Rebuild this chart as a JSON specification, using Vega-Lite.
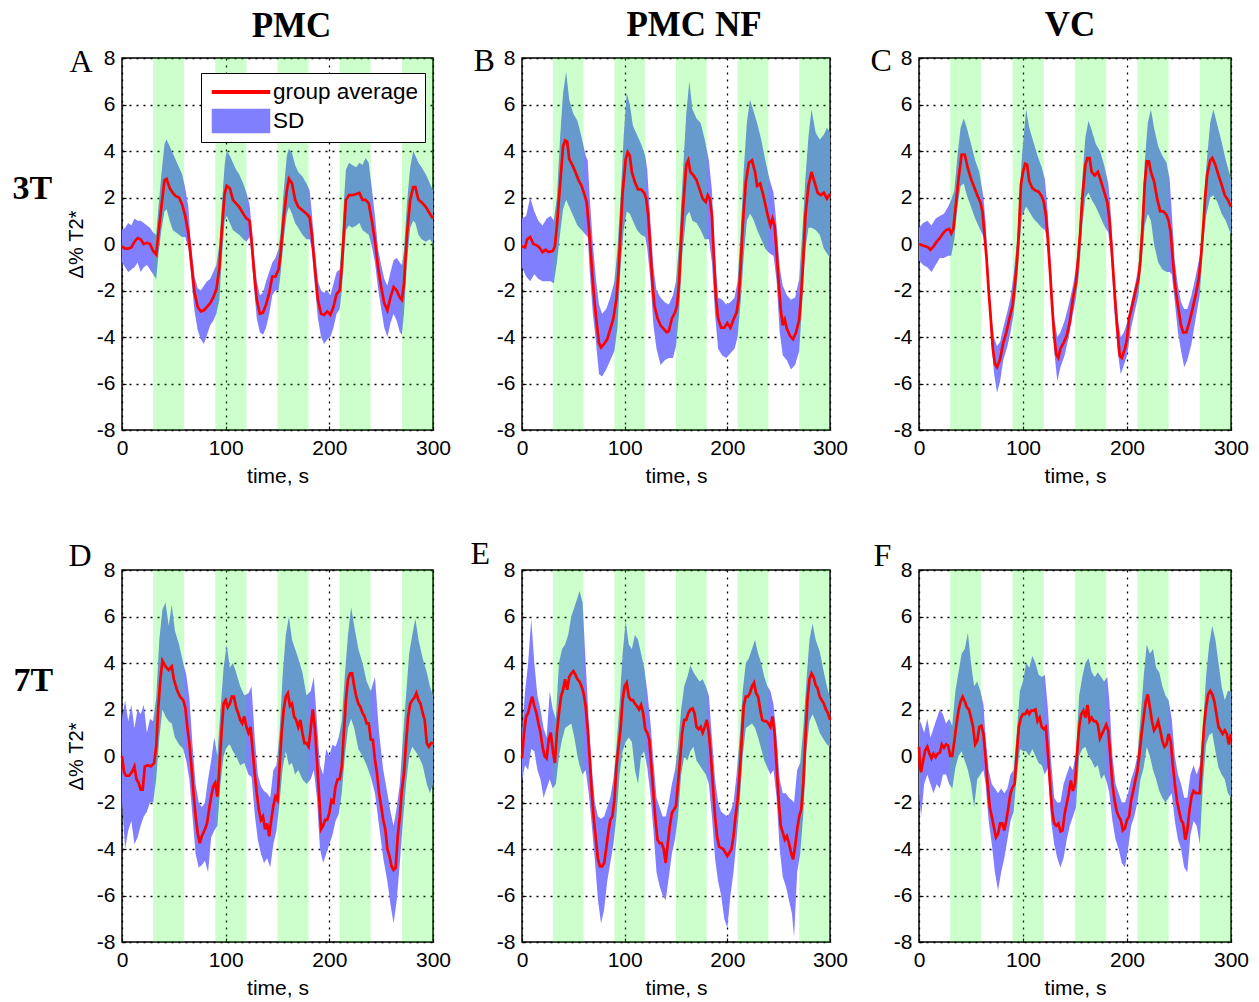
{
"$schema": "https://vega.github.io/schema/vega-lite/v6.json",
"background": "white",
"padding": {"left": 11, "top": 6, "right": 0, "bottom": 0},
"config": {
 "view": {"stroke": "black", "strokeWidth": 1.5},
 "axis": {"domain": false, "ticks": false, "labelFont": "Liberation Sans", "labelFontSize": 21, "labelColor": "black", "titleFont": "Liberation Sans", "titleFontSize": 21, "titleFontWeight": "normal", "titleColor": "black", "gridColor": "black", "gridDash": [2, 5], "gridWidth": 1.3, "gridOpacity": 1, "labelFlush": false, "labelExpr": "'' + datum.value"},
 "axisBottom": {"ticks": true, "tickSize": -4, "tickColor": "black", "tickWidth": 1.2, "labelPadding": 11.5, "titlePadding": 6.5},
 "axisLeft": {"ticks": true, "tickSize": -4, "tickColor": "black", "tickWidth": 1.2, "labelPadding": 11, "titlePadding": 10, "titleFontSize": 20},
 "axisTop": {"labels": false, "grid": false, "titleAngle": 0, "titleAlign": "left", "titleBaseline": "alphabetic", "titleFont": "Liberation Serif", "titleFontSize": 32, "titleFontWeight": "normal", "titlePadding": 0},
 "axisRight": {"labels": false, "grid": false, "titleAngle": 0, "titleAlign": "left", "titleBaseline": "alphabetic", "titleFont": "Liberation Serif", "titleFontSize": 34, "titleFontWeight": "bold", "titlePadding": 0},
 "title": {"font": "Liberation Serif", "fontSize": 35, "fontWeight": "bold", "color": "black", "anchor": "middle", "offset": 1.5},
 "legend": {"labelFont": "Liberation Sans", "labelFontSize": 22.5, "labelColor": "black", "symbolSize": 576, "symbolOffset": 21, "labelOffset": 19, "padding": 6, "rowPadding": 2, "strokeColor": "black", "fillColor": "white"}
},
"datasets": {
 "blocks": [{"s":30,"e":60},{"s":90,"e":120},{"s":150,"e":180},{"s":210,"e":240},{"s":270,"e":300}],
 "mA": [{"t":0,"m":-0.1},{"t":3,"m":-0.2},{"t":6,"m":-0.2},{"t":9,"m":-0.15},{"t":12,"m":0.1},{"t":15,"m":0.25},{"t":18,"m":0.2},{"t":21,"m":0},{"t":24,"m":0.05},{"t":27,"m":0},{"t":30,"m":-0.3},{"t":33,"m":-0.45},{"t":35,"m":0.4},{"t":38,"m":1.6},{"t":41,"m":2.75},{"t":43,"m":2.8},{"t":46,"m":2.4},{"t":49,"m":2.2},{"t":52,"m":2.05},{"t":55,"m":2.0},{"t":58,"m":1.7},{"t":61,"m":1.2},{"t":64,"m":0.45},{"t":66,"m":-0.4},{"t":68,"m":-1.3},{"t":70,"m":-2.1},{"t":73,"m":-2.7},{"t":76,"m":-2.9},{"t":79,"m":-2.85},{"t":82,"m":-2.7},{"t":85,"m":-2.55},{"t":88,"m":-2.3},{"t":91,"m":-1.95},{"t":94,"m":-1.0},{"t":96,"m":0.45},{"t":99,"m":2.15},{"t":101,"m":2.5},{"t":104,"m":2.4},{"t":107,"m":1.9},{"t":110,"m":1.75},{"t":113,"m":1.6},{"t":117,"m":1.3},{"t":120,"m":1.1},{"t":123,"m":1.0},{"t":125,"m":0.15},{"t":127,"m":-1.0},{"t":130,"m":-2.4},{"t":133,"m":-3.0},{"t":136,"m":-2.95},{"t":139,"m":-2.6},{"t":142,"m":-2.1},{"t":145,"m":-1.4},{"t":148,"m":-1.4},{"t":151,"m":-1.1},{"t":153,"m":-0.4},{"t":156,"m":1.15},{"t":159,"m":2.3},{"t":161,"m":2.8},{"t":164,"m":2.6},{"t":167,"m":1.9},{"t":170,"m":1.6},{"t":174,"m":1.45},{"t":178,"m":1.3},{"t":181,"m":1.15},{"t":183,"m":0.45},{"t":186,"m":-1.0},{"t":189,"m":-2.4},{"t":192,"m":-3.0},{"t":195,"m":-3.05},{"t":198,"m":-2.9},{"t":201,"m":-3.05},{"t":204,"m":-2.7},{"t":207,"m":-2.15},{"t":210,"m":-2.0},{"t":212,"m":-1.0},{"t":214,"m":0.45},{"t":216,"m":1.9},{"t":219,"m":2.1},{"t":222,"m":2.1},{"t":226,"m":2.15},{"t":229,"m":2.2},{"t":232,"m":1.9},{"t":235,"m":1.9},{"t":238,"m":1.75},{"t":241,"m":1.0},{"t":244,"m":0.15},{"t":247,"m":-1.0},{"t":250,"m":-1.85},{"t":253,"m":-2.55},{"t":256,"m":-2.85},{"t":259,"m":-2.3},{"t":262,"m":-1.85},{"t":265,"m":-2.0},{"t":268,"m":-2.3},{"t":270,"m":-2.4},{"t":272,"m":-1.7},{"t":275,"m":0.45},{"t":278,"m":1.9},{"t":281,"m":2.45},{"t":283,"m":2.45},{"t":286,"m":1.9},{"t":289,"m":1.8},{"t":293,"m":1.6},{"t":297,"m":1.3},{"t":300,"m":1.1}],
 "sA": [{"t":0,"l":-0.8,"h":0.6},{"t":3,"l":-1.0,"h":0.7},{"t":6,"l":-1.2,"h":0.9},{"t":9,"l":-1.1,"h":0.8},{"t":12,"l":-1.0,"h":1.1},{"t":15,"l":-0.8,"h":1.0},{"t":18,"l":-1.2,"h":1.0},{"t":21,"l":-1.0,"h":0.9},{"t":24,"l":-0.9,"h":0.8},{"t":27,"l":-1.1,"h":0.7},{"t":30,"l":-1.3,"h":0.5},{"t":33,"l":-1.5,"h":0.4},{"t":35,"l":-0.5,"h":1.5},{"t":38,"l":0.6,"h":3.0},{"t":41,"l":1.4,"h":4.3},{"t":43,"l":1.5,"h":4.5},{"t":46,"l":1.0,"h":4.2},{"t":49,"l":0.6,"h":3.9},{"t":52,"l":0.5,"h":3.6},{"t":55,"l":0.4,"h":3.3},{"t":58,"l":0.3,"h":3.0},{"t":61,"l":0.3,"h":2.4},{"t":64,"l":-0.2,"h":1.6},{"t":66,"l":-1.0,"h":0.3},{"t":68,"l":-2.0,"h":-0.6},{"t":70,"l":-2.9,"h":-1.4},{"t":73,"l":-3.7,"h":-1.9},{"t":76,"l":-4.1,"h":-2.0},{"t":79,"l":-4.3,"h":-1.8},{"t":82,"l":-3.9,"h":-1.6},{"t":85,"l":-3.5,"h":-1.5},{"t":88,"l":-3.3,"h":-1.2},{"t":91,"l":-3.0,"h":-0.9},{"t":94,"l":-2.4,"h":0.0},{"t":96,"l":-0.8,"h":1.5},{"t":99,"l":1.0,"h":3.4},{"t":101,"l":1.2,"h":4.0},{"t":104,"l":0.9,"h":3.8},{"t":107,"l":0.6,"h":3.5},{"t":110,"l":0.5,"h":3.2},{"t":113,"l":0.4,"h":3.0},{"t":117,"l":0.2,"h":2.6},{"t":120,"l":0.1,"h":2.2},{"t":123,"l":0.3,"h":1.7},{"t":125,"l":-0.5,"h":0.8},{"t":127,"l":-1.7,"h":-0.3},{"t":130,"l":-3.2,"h":-1.6},{"t":133,"l":-3.8,"h":-2.2},{"t":136,"l":-3.9,"h":-2.1},{"t":139,"l":-3.6,"h":-1.6},{"t":142,"l":-3.0,"h":-1.2},{"t":145,"l":-2.2,"h":-0.8},{"t":148,"l":-2.0,"h":-0.6},{"t":151,"l":-2.0,"h":-0.2},{"t":153,"l":-1.3,"h":0.5},{"t":156,"l":0.2,"h":2.3},{"t":159,"l":1.3,"h":3.8},{"t":161,"l":1.6,"h":4.1},{"t":164,"l":1.3,"h":3.9},{"t":167,"l":0.9,"h":3.4},{"t":170,"l":0.7,"h":3.1},{"t":174,"l":0.4,"h":2.9},{"t":178,"l":0.2,"h":2.6},{"t":181,"l":0.2,"h":2.3},{"t":183,"l":-0.2,"h":1.4},{"t":186,"l":-1.8,"h":-0.2},{"t":189,"l":-3.2,"h":-1.6},{"t":192,"l":-4.0,"h":-2.0},{"t":195,"l":-4.3,"h":-2.1},{"t":198,"l":-4.1,"h":-2.0},{"t":201,"l":-4.0,"h":-2.2},{"t":204,"l":-3.6,"h":-1.7},{"t":207,"l":-3.0,"h":-1.2},{"t":210,"l":-2.8,"h":-1.1},{"t":212,"l":-2.0,"h":0.0},{"t":214,"l":-0.6,"h":1.8},{"t":216,"l":0.6,"h":3.2},{"t":219,"l":0.8,"h":3.5},{"t":222,"l":0.7,"h":3.4},{"t":226,"l":0.8,"h":3.3},{"t":229,"l":0.9,"h":3.5},{"t":232,"l":0.6,"h":3.4},{"t":235,"l":0.5,"h":3.7},{"t":238,"l":0.4,"h":3.5},{"t":241,"l":-0.1,"h":2.4},{"t":244,"l":-0.8,"h":1.2},{"t":247,"l":-1.9,"h":-0.2},{"t":250,"l":-2.8,"h":-0.9},{"t":253,"l":-3.6,"h":-1.5},{"t":256,"l":-4.0,"h":-1.8},{"t":259,"l":-3.4,"h":-1.2},{"t":262,"l":-3.0,"h":-0.7},{"t":265,"l":-3.3,"h":-0.6},{"t":268,"l":-3.8,"h":-0.8},{"t":270,"l":-3.9,"h":-0.9},{"t":272,"l":-3.0,"h":-0.3},{"t":275,"l":-0.7,"h":1.8},{"t":278,"l":0.7,"h":3.3},{"t":281,"l":1.0,"h":4.0},{"t":283,"l":0.9,"h":3.8},{"t":286,"l":0.4,"h":3.5},{"t":289,"l":0.2,"h":3.3},{"t":293,"l":0.1,"h":3.0},{"t":297,"l":0.2,"h":2.6},{"t":300,"l":0.0,"h":2.3}],
 "mB": [{"t":0,"m":-0.1},{"t":3,"m":-0.15},{"t":5,"m":0.2},{"t":8,"m":0.3},{"t":11,"m":0},{"t":14,"m":-0.05},{"t":17,"m":-0.15},{"t":20,"m":-0.35},{"t":23,"m":-0.25},{"t":26,"m":-0.35},{"t":30,"m":-0.3},{"t":32,"m":-0.1},{"t":34,"m":0.8},{"t":37,"m":2.5},{"t":40,"m":4.2},{"t":42,"m":4.45},{"t":44,"m":4.4},{"t":46,"m":3.65},{"t":49,"m":3.4},{"t":52,"m":3.1},{"t":55,"m":2.75},{"t":58,"m":2.5},{"t":61,"m":2.1},{"t":63,"m":1.8},{"t":65,"m":0.8},{"t":67,"m":-0.35},{"t":69,"m":-1.65},{"t":71,"m":-2.65},{"t":73,"m":-3.5},{"t":75,"m":-4.25},{"t":77,"m":-4.45},{"t":80,"m":-4.3},{"t":83,"m":-4.1},{"t":86,"m":-3.65},{"t":89,"m":-3.2},{"t":92,"m":-2.35},{"t":94,"m":-1.2},{"t":96,"m":0.5},{"t":98,"m":2.2},{"t":101,"m":3.65},{"t":103,"m":3.95},{"t":105,"m":3.8},{"t":107,"m":3.1},{"t":110,"m":2.65},{"t":113,"m":2.35},{"t":116,"m":2.35},{"t":119,"m":2.2},{"t":121,"m":1.95},{"t":123,"m":1.2},{"t":125,"m":-0.2},{"t":127,"m":-1.65},{"t":129,"m":-2.65},{"t":132,"m":-3.2},{"t":135,"m":-3.5},{"t":138,"m":-3.65},{"t":141,"m":-3.8},{"t":143,"m":-3.75},{"t":146,"m":-3.2},{"t":149,"m":-2.95},{"t":151,"m":-2.65},{"t":153,"m":-1.65},{"t":155,"m":0.2},{"t":157,"m":1.65},{"t":160,"m":3.4},{"t":162,"m":3.6},{"t":164,"m":3.1},{"t":167,"m":2.95},{"t":170,"m":2.75},{"t":173,"m":2.35},{"t":176,"m":1.95},{"t":179,"m":1.8},{"t":181,"m":2.1},{"t":183,"m":1.95},{"t":185,"m":1.2},{"t":187,"m":-0.65},{"t":189,"m":-2.35},{"t":191,"m":-3.2},{"t":194,"m":-3.6},{"t":197,"m":-3.6},{"t":200,"m":-3.4},{"t":203,"m":-3.6},{"t":206,"m":-3.25},{"t":209,"m":-2.95},{"t":211,"m":-2.35},{"t":213,"m":-0.95},{"t":215,"m":0.8},{"t":218,"m":2.65},{"t":221,"m":3.5},{"t":224,"m":3.6},{"t":227,"m":3.1},{"t":229,"m":2.5},{"t":232,"m":2.6},{"t":235,"m":2.1},{"t":238,"m":1.5},{"t":240,"m":1.1},{"t":242,"m":0.8},{"t":244,"m":1.1},{"t":246,"m":0.8},{"t":248,"m":-0.35},{"t":250,"m":-1.65},{"t":252,"m":-2.8},{"t":254,"m":-3.5},{"t":256,"m":-3.25},{"t":258,"m":-3.65},{"t":261,"m":-3.95},{"t":264,"m":-4.1},{"t":267,"m":-3.8},{"t":270,"m":-3.25},{"t":272,"m":-2.1},{"t":274,"m":-0.65},{"t":276,"m":1.2},{"t":279,"m":2.5},{"t":282,"m":3.1},{"t":285,"m":2.65},{"t":288,"m":2.2},{"t":291,"m":2.1},{"t":294,"m":2.2},{"t":297,"m":1.95},{"t":300,"m":2.15}],
 "sB": [{"t":0,"l":-1.0,"h":1.1},{"t":4,"l":-1.4,"h":1.2},{"t":8,"l":-1.6,"h":2.0},{"t":12,"l":-1.3,"h":1.4},{"t":16,"l":-1.5,"h":1.0},{"t":20,"l":-1.6,"h":0.8},{"t":24,"l":-1.6,"h":1.1},{"t":28,"l":-1.6,"h":1.2},{"t":31,"l":-1.7,"h":1.0},{"t":34,"l":-0.8,"h":2.0},{"t":37,"l":0.4,"h":4.5},{"t":40,"l":1.5,"h":6.5},{"t":43,"l":1.9,"h":7.4},{"t":46,"l":1.6,"h":6.2},{"t":50,"l":1.2,"h":5.6},{"t":54,"l":0.8,"h":5.3},{"t":58,"l":0.6,"h":4.6},{"t":62,"l":0.4,"h":3.8},{"t":64,"l":0.3,"h":3.6},{"t":66,"l":-1.2,"h":2.0},{"t":69,"l":-3.0,"h":0.0},{"t":72,"l":-4.2,"h":-1.5},{"t":75,"l":-5.6,"h":-2.6},{"t":78,"l":-5.7,"h":-3.0},{"t":82,"l":-5.4,"h":-2.8},{"t":86,"l":-5.0,"h":-2.3},{"t":90,"l":-4.6,"h":-1.6},{"t":93,"l":-3.6,"h":-0.2},{"t":96,"l":-1.0,"h":2.0},{"t":99,"l":0.6,"h":4.6},{"t":102,"l":1.4,"h":6.5},{"t":105,"l":1.3,"h":6.0},{"t":108,"l":1.0,"h":5.1},{"t":112,"l":0.6,"h":4.7},{"t":116,"l":0.4,"h":4.3},{"t":120,"l":0.3,"h":3.8},{"t":122,"l":-0.2,"h":3.2},{"t":125,"l":-1.5,"h":1.0},{"t":128,"l":-3.5,"h":-1.0},{"t":131,"l":-4.5,"h":-2.0},{"t":135,"l":-5.2,"h":-2.3},{"t":139,"l":-5.0,"h":-2.5},{"t":143,"l":-4.9,"h":-2.6},{"t":147,"l":-4.9,"h":-2.2},{"t":150,"l":-4.4,"h":-1.6},{"t":153,"l":-3.0,"h":0.0},{"t":156,"l":-0.5,"h":2.5},{"t":160,"l":1.2,"h":5.6},{"t":163,"l":1.4,"h":7.0},{"t":166,"l":1.0,"h":5.8},{"t":170,"l":0.9,"h":5.4},{"t":174,"l":0.6,"h":5.2},{"t":178,"l":0.2,"h":4.5},{"t":182,"l":0.2,"h":3.6},{"t":185,"l":-0.8,"h":2.3},{"t":188,"l":-3.0,"h":-0.5},{"t":191,"l":-4.5,"h":-2.3},{"t":195,"l":-4.8,"h":-2.4},{"t":199,"l":-4.9,"h":-2.6},{"t":203,"l":-4.7,"h":-2.5},{"t":207,"l":-4.5,"h":-2.3},{"t":210,"l":-4.0,"h":-1.6},{"t":213,"l":-2.5,"h":0.5},{"t":216,"l":-0.5,"h":3.2},{"t":219,"l":1.0,"h":5.2},{"t":222,"l":1.3,"h":6.2},{"t":225,"l":1.1,"h":5.8},{"t":229,"l":0.6,"h":5.2},{"t":233,"l":0.2,"h":4.5},{"t":237,"l":-0.2,"h":3.6},{"t":241,"l":-0.4,"h":2.8},{"t":245,"l":-0.5,"h":2.2},{"t":248,"l":-1.6,"h":0.8},{"t":251,"l":-3.8,"h":-1.0},{"t":254,"l":-4.8,"h":-1.8},{"t":258,"l":-5.0,"h":-2.2},{"t":262,"l":-5.4,"h":-2.4},{"t":266,"l":-5.2,"h":-2.3},{"t":270,"l":-4.6,"h":-1.5},{"t":273,"l":-2.5,"h":0.5},{"t":276,"l":-0.2,"h":2.8},{"t":279,"l":0.7,"h":4.6},{"t":282,"l":0.7,"h":5.8},{"t":286,"l":0.6,"h":4.8},{"t":290,"l":0.4,"h":4.5},{"t":294,"l":-0.2,"h":4.7},{"t":297,"l":-0.4,"h":5.0},{"t":300,"l":-0.6,"h":4.8}],
 "mC": [{"t":0,"m":0.0},{"t":3,"m":-0.05},{"t":6,"m":-0.1},{"t":9,"m":-0.15},{"t":11,"m":-0.25},{"t":14,"m":-0.1},{"t":17,"m":0.1},{"t":20,"m":0.25},{"t":23,"m":0.45},{"t":26,"m":0.6},{"t":29,"m":0.65},{"t":31,"m":0.45},{"t":33,"m":0.65},{"t":35,"m":1.5},{"t":38,"m":2.8},{"t":41,"m":3.85},{"t":44,"m":3.85},{"t":47,"m":3.25},{"t":50,"m":2.8},{"t":53,"m":2.45},{"t":56,"m":2.1},{"t":59,"m":1.8},{"t":61,"m":1.4},{"t":63,"m":0.4},{"t":65,"m":-0.65},{"t":67,"m":-2.05},{"t":69,"m":-3.2},{"t":71,"m":-4.5},{"t":73,"m":-5.15},{"t":75,"m":-5.3},{"t":78,"m":-4.95},{"t":81,"m":-4.25},{"t":84,"m":-3.8},{"t":87,"m":-3.2},{"t":90,"m":-2.65},{"t":92,"m":-1.8},{"t":94,"m":-0.9},{"t":96,"m":0.5},{"t":98,"m":2.55},{"t":100,"m":3.1},{"t":102,"m":3.45},{"t":104,"m":3.4},{"t":106,"m":2.7},{"t":109,"m":2.4},{"t":112,"m":2.3},{"t":115,"m":2.25},{"t":118,"m":2.05},{"t":120,"m":1.8},{"t":122,"m":1.25},{"t":124,"m":0.1},{"t":126,"m":-1.2},{"t":128,"m":-2.65},{"t":130,"m":-3.95},{"t":132,"m":-4.75},{"t":134,"m":-4.9},{"t":136,"m":-4.5},{"t":139,"m":-4.25},{"t":142,"m":-3.95},{"t":145,"m":-3.35},{"t":148,"m":-2.35},{"t":151,"m":-1.65},{"t":153,"m":-0.65},{"t":155,"m":0.5},{"t":157,"m":1.95},{"t":160,"m":3.4},{"t":162,"m":3.7},{"t":164,"m":3.7},{"t":166,"m":3.1},{"t":169,"m":2.95},{"t":172,"m":3.1},{"t":175,"m":2.7},{"t":178,"m":2.25},{"t":181,"m":1.8},{"t":183,"m":1.1},{"t":185,"m":-0.05},{"t":187,"m":-1.35},{"t":189,"m":-2.65},{"t":191,"m":-3.8},{"t":193,"m":-4.8},{"t":195,"m":-4.9},{"t":198,"m":-4.5},{"t":200,"m":-4.1},{"t":202,"m":-3.2},{"t":205,"m":-2.65},{"t":208,"m":-2.05},{"t":211,"m":-1.5},{"t":213,"m":-0.65},{"t":215,"m":0.8},{"t":217,"m":2.55},{"t":219,"m":3.55},{"t":221,"m":3.55},{"t":223,"m":3.1},{"t":226,"m":2.7},{"t":229,"m":1.95},{"t":232,"m":1.4},{"t":235,"m":1.4},{"t":238,"m":1.25},{"t":240,"m":1.0},{"t":242,"m":0.5},{"t":244,"m":-0.65},{"t":246,"m":-1.65},{"t":248,"m":-2.35},{"t":250,"m":-2.95},{"t":252,"m":-3.5},{"t":254,"m":-3.8},{"t":257,"m":-3.8},{"t":260,"m":-3.35},{"t":263,"m":-2.8},{"t":266,"m":-2.2},{"t":269,"m":-1.5},{"t":271,"m":-0.65},{"t":273,"m":0.5},{"t":275,"m":1.95},{"t":277,"m":2.95},{"t":280,"m":3.6},{"t":282,"m":3.7},{"t":285,"m":3.4},{"t":288,"m":2.95},{"t":291,"m":2.55},{"t":294,"m":2.1},{"t":297,"m":1.9},{"t":300,"m":1.6}],
 "sC": [{"t":0,"l":-0.7,"h":0.7},{"t":4,"l":-0.9,"h":0.9},{"t":8,"l":-1.0,"h":1.0},{"t":12,"l":-1.2,"h":0.8},{"t":16,"l":-0.9,"h":1.1},{"t":20,"l":-0.6,"h":1.2},{"t":24,"l":-0.6,"h":1.3},{"t":28,"l":-0.5,"h":1.6},{"t":31,"l":-0.5,"h":1.9},{"t":34,"l":0.2,"h":2.3},{"t":37,"l":1.6,"h":3.8},{"t":40,"l":2.5,"h":5.0},{"t":43,"l":2.6,"h":5.4},{"t":46,"l":2.1,"h":5.0},{"t":50,"l":1.6,"h":4.3},{"t":54,"l":1.1,"h":3.6},{"t":58,"l":0.7,"h":3.1},{"t":62,"l":0.3,"h":2.0},{"t":64,"l":-0.3,"h":0.9},{"t":66,"l":-1.6,"h":-0.6},{"t":68,"l":-3.2,"h":-2.0},{"t":70,"l":-4.4,"h":-3.2},{"t":72,"l":-5.5,"h":-4.0},{"t":75,"l":-6.4,"h":-4.4},{"t":78,"l":-5.9,"h":-4.2},{"t":81,"l":-5.0,"h":-3.6},{"t":85,"l":-4.4,"h":-2.9},{"t":88,"l":-3.8,"h":-2.3},{"t":91,"l":-3.0,"h":-1.3},{"t":94,"l":-1.8,"h":0.0},{"t":96,"l":-0.4,"h":1.4},{"t":99,"l":1.2,"h":3.8},{"t":103,"l":1.6,"h":5.8},{"t":106,"l":1.4,"h":5.0},{"t":110,"l":1.1,"h":4.4},{"t":114,"l":0.9,"h":3.8},{"t":118,"l":0.7,"h":3.3},{"t":121,"l":0.6,"h":2.8},{"t":123,"l":0.3,"h":1.8},{"t":125,"l":-0.8,"h":0.5},{"t":127,"l":-2.5,"h":-1.0},{"t":130,"l":-4.6,"h":-3.2},{"t":133,"l":-5.9,"h":-4.0},{"t":136,"l":-5.3,"h":-3.8},{"t":140,"l":-4.8,"h":-3.3},{"t":144,"l":-4.0,"h":-2.6},{"t":148,"l":-3.0,"h":-1.8},{"t":151,"l":-2.3,"h":-1.0},{"t":154,"l":-1.2,"h":0.5},{"t":157,"l":0.8,"h":2.8},{"t":160,"l":2.0,"h":4.6},{"t":163,"l":2.2,"h":5.3},{"t":166,"l":1.9,"h":4.9},{"t":170,"l":1.6,"h":4.3},{"t":174,"l":1.2,"h":4.0},{"t":178,"l":0.8,"h":3.4},{"t":182,"l":0.5,"h":2.6},{"t":184,"l":-0.2,"h":1.6},{"t":186,"l":-1.5,"h":0.0},{"t":188,"l":-3.0,"h":-1.6},{"t":191,"l":-4.6,"h":-3.2},{"t":194,"l":-5.6,"h":-4.0},{"t":197,"l":-5.2,"h":-3.8},{"t":200,"l":-4.8,"h":-3.4},{"t":204,"l":-3.6,"h":-2.5},{"t":208,"l":-2.8,"h":-1.7},{"t":211,"l":-2.2,"h":-1.0},{"t":214,"l":-0.8,"h":0.8},{"t":217,"l":0.8,"h":3.5},{"t":220,"l":1.3,"h":5.2},{"t":223,"l":1.0,"h":5.8},{"t":226,"l":0.0,"h":5.0},{"t":230,"l":-0.8,"h":4.2},{"t":234,"l":-1.1,"h":3.8},{"t":238,"l":-1.2,"h":3.5},{"t":241,"l":-1.2,"h":2.8},{"t":243,"l":-1.3,"h":1.4},{"t":246,"l":-2.5,"h":-0.8},{"t":249,"l":-3.8,"h":-1.8},{"t":252,"l":-4.6,"h":-2.5},{"t":255,"l":-5.3,"h":-2.8},{"t":258,"l":-5.0,"h":-2.8},{"t":262,"l":-4.3,"h":-2.2},{"t":266,"l":-3.2,"h":-1.4},{"t":270,"l":-2.2,"h":-0.5},{"t":273,"l":0.0,"h":1.0},{"t":276,"l":1.2,"h":3.2},{"t":280,"l":2.0,"h":5.2},{"t":283,"l":2.1,"h":5.8},{"t":287,"l":1.8,"h":5.1},{"t":291,"l":1.3,"h":4.4},{"t":295,"l":1.0,"h":3.6},{"t":300,"l":0.4,"h":2.8}],
 "mD": [{"t":0,"m":0.0},{"t":2,"m":-0.7},{"t":4,"m":-0.85},{"t":7,"m":-0.85},{"t":10,"m":-0.65},{"t":12,"m":-0.45},{"t":14,"m":-1.0},{"t":16,"m":-1.15},{"t":18,"m":-1.45},{"t":20,"m":-1.45},{"t":22,"m":-0.45},{"t":25,"m":-0.4},{"t":28,"m":-0.45},{"t":31,"m":-0.3},{"t":33,"m":0.4},{"t":35,"m":2.1},{"t":37,"m":3.3},{"t":39,"m":4.1},{"t":42,"m":3.85},{"t":45,"m":3.7},{"t":48,"m":3.85},{"t":50,"m":3.3},{"t":53,"m":2.85},{"t":56,"m":2.55},{"t":59,"m":2.4},{"t":61,"m":2.1},{"t":63,"m":1.25},{"t":65,"m":0.55},{"t":67,"m":-0.45},{"t":69,"m":-1.6},{"t":71,"m":-2.6},{"t":73,"m":-3.3},{"t":75,"m":-3.75},{"t":77,"m":-3.45},{"t":80,"m":-3.15},{"t":82,"m":-2.9},{"t":84,"m":-2.3},{"t":86,"m":-1.75},{"t":88,"m":-1.3},{"t":90,"m":-1.15},{"t":92,"m":-1.75},{"t":94,"m":-0.45},{"t":96,"m":1.0},{"t":98,"m":2.25},{"t":100,"m":2.4},{"t":102,"m":2.1},{"t":104,"m":2.25},{"t":106,"m":2.55},{"t":108,"m":2.55},{"t":110,"m":2.1},{"t":112,"m":1.85},{"t":114,"m":1.55},{"t":116,"m":1.4},{"t":118,"m":1.7},{"t":120,"m":1.25},{"t":122,"m":1.0},{"t":124,"m":1.25},{"t":126,"m":0.25},{"t":128,"m":-0.75},{"t":130,"m":-1.6},{"t":132,"m":-2.3},{"t":134,"m":-2.75},{"t":136,"m":-2.6},{"t":138,"m":-3.15},{"t":140,"m":-2.9},{"t":142,"m":-3.45},{"t":144,"m":-2.75},{"t":146,"m":-2.15},{"t":148,"m":-1.75},{"t":150,"m":-1.9},{"t":152,"m":-0.45},{"t":154,"m":1.0},{"t":156,"m":2.0},{"t":158,"m":2.55},{"t":160,"m":2.7},{"t":162,"m":2.15},{"t":164,"m":2.25},{"t":166,"m":1.7},{"t":168,"m":1.55},{"t":170,"m":1.25},{"t":172,"m":1.55},{"t":174,"m":1.0},{"t":176,"m":0.55},{"t":178,"m":0.55},{"t":180,"m":0.4},{"t":182,"m":1.15},{"t":184,"m":2.0},{"t":186,"m":1.25},{"t":188,"m":-0.15},{"t":190,"m":-1.6},{"t":192,"m":-3.15},{"t":194,"m":-3.0},{"t":196,"m":-2.75},{"t":198,"m":-2.75},{"t":200,"m":-2.45},{"t":202,"m":-1.9},{"t":204,"m":-2.0},{"t":206,"m":-1.3},{"t":208,"m":-1.0},{"t":210,"m":-1.0},{"t":212,"m":-0.45},{"t":214,"m":1.0},{"t":216,"m":2.4},{"t":218,"m":3.3},{"t":220,"m":3.55},{"t":222,"m":3.55},{"t":224,"m":3.0},{"t":226,"m":2.55},{"t":228,"m":2.25},{"t":230,"m":2.1},{"t":232,"m":1.85},{"t":234,"m":1.7},{"t":236,"m":1.4},{"t":238,"m":1.4},{"t":240,"m":0.7},{"t":242,"m":0.7},{"t":244,"m":-0.15},{"t":246,"m":-0.75},{"t":248,"m":-1.6},{"t":250,"m":-2.15},{"t":252,"m":-2.75},{"t":254,"m":-3.15},{"t":256,"m":-4.0},{"t":258,"m":-4.3},{"t":260,"m":-4.75},{"t":262,"m":-4.9},{"t":264,"m":-4.8},{"t":266,"m":-3.45},{"t":268,"m":-2.6},{"t":270,"m":-1.45},{"t":272,"m":-0.75},{"t":274,"m":0.55},{"t":276,"m":1.7},{"t":278,"m":2.25},{"t":280,"m":2.4},{"t":282,"m":2.5},{"t":284,"m":2.7},{"t":286,"m":2.4},{"t":288,"m":2.25},{"t":290,"m":1.85},{"t":292,"m":1.55},{"t":294,"m":0.55},{"t":296,"m":0.4},{"t":298,"m":0.55},{"t":300,"m":0.55}],
 "sD": [{"t":0,"l":-2.0,"h":1.6},{"t":3,"l":-4.0,"h":2.4},{"t":6,"l":-3.2,"h":1.5},{"t":9,"l":-2.8,"h":2.2},{"t":12,"l":-3.8,"h":1.2},{"t":15,"l":-3.5,"h":2.0},{"t":18,"l":-3.0,"h":1.8},{"t":21,"l":-2.6,"h":2.2},{"t":24,"l":-2.4,"h":1.0},{"t":27,"l":-2.0,"h":1.6},{"t":30,"l":-2.0,"h":1.5},{"t":33,"l":-1.0,"h":2.5},{"t":36,"l":0.8,"h":5.0},{"t":39,"l":2.0,"h":6.3},{"t":42,"l":1.7,"h":6.6},{"t":45,"l":1.5,"h":5.6},{"t":48,"l":1.4,"h":6.5},{"t":51,"l":0.8,"h":5.4},{"t":55,"l":0.5,"h":4.8},{"t":59,"l":0.3,"h":4.0},{"t":62,"l":-0.2,"h":3.5},{"t":65,"l":-1.0,"h":2.5},{"t":68,"l":-2.6,"h":0.5},{"t":71,"l":-4.2,"h":-1.2},{"t":74,"l":-4.8,"h":-2.0},{"t":77,"l":-4.7,"h":-2.2},{"t":80,"l":-4.5,"h":-2.0},{"t":83,"l":-5.0,"h":-1.0},{"t":86,"l":-3.5,"h":-0.2},{"t":89,"l":-3.2,"h":0.8},{"t":92,"l":-3.0,"h":0.0},{"t":95,"l":-1.2,"h":2.0},{"t":98,"l":0.0,"h":3.8},{"t":101,"l":0.4,"h":4.8},{"t":104,"l":0.5,"h":3.8},{"t":107,"l":0.2,"h":4.0},{"t":110,"l":0.0,"h":3.6},{"t":114,"l":-0.4,"h":3.0},{"t":118,"l":-0.3,"h":2.6},{"t":122,"l":-0.8,"h":2.7},{"t":125,"l":-0.9,"h":3.0},{"t":128,"l":-2.5,"h":0.8},{"t":131,"l":-3.6,"h":-0.8},{"t":134,"l":-4.2,"h":-1.3},{"t":137,"l":-4.6,"h":-1.5},{"t":140,"l":-4.4,"h":-1.6},{"t":143,"l":-4.8,"h":-1.8},{"t":146,"l":-3.8,"h":-0.6},{"t":149,"l":-3.2,"h":-0.4},{"t":152,"l":-2.0,"h":1.0},{"t":155,"l":-0.5,"h":3.5},{"t":158,"l":0.2,"h":5.2},{"t":161,"l":-0.4,"h":6.0},{"t":164,"l":-0.3,"h":5.0},{"t":167,"l":-0.8,"h":4.6},{"t":170,"l":-0.6,"h":4.2},{"t":174,"l":-1.0,"h":3.6},{"t":178,"l":-1.2,"h":2.6},{"t":182,"l":-1.0,"h":2.8},{"t":185,"l":-0.6,"h":3.4},{"t":188,"l":-1.8,"h":1.5},{"t":191,"l":-4.0,"h":-0.4},{"t":194,"l":-4.6,"h":-0.8},{"t":197,"l":-4.2,"h":0.3},{"t":200,"l":-3.8,"h":0.0},{"t":203,"l":-3.4,"h":0.5},{"t":206,"l":-2.8,"h":0.4},{"t":209,"l":-2.5,"h":0.8},{"t":212,"l":-1.6,"h":1.5},{"t":215,"l":0.0,"h":3.5},{"t":218,"l":1.2,"h":5.2},{"t":221,"l":1.6,"h":6.4},{"t":224,"l":1.2,"h":5.6},{"t":228,"l":0.3,"h":4.6},{"t":232,"l":0.0,"h":4.0},{"t":236,"l":-0.4,"h":3.2},{"t":240,"l":-0.9,"h":2.8},{"t":244,"l":-1.6,"h":3.4},{"t":248,"l":-3.0,"h":1.0},{"t":252,"l":-4.4,"h":-0.6},{"t":256,"l":-5.4,"h":-1.6},{"t":259,"l":-6.4,"h":-2.4},{"t":262,"l":-7.2,"h":-3.0},{"t":265,"l":-6.2,"h":-2.2},{"t":268,"l":-4.6,"h":-1.2},{"t":271,"l":-2.8,"h":0.8},{"t":274,"l":-1.2,"h":2.6},{"t":277,"l":0.0,"h":4.4},{"t":280,"l":0.4,"h":5.2},{"t":283,"l":0.2,"h":5.9},{"t":286,"l":0.0,"h":5.0},{"t":290,"l":-0.4,"h":4.2},{"t":294,"l":-1.2,"h":3.6},{"t":297,"l":-1.6,"h":3.0},{"t":300,"l":-1.2,"h":2.6}],
 "mE": [{"t":0,"m":-0.1},{"t":2,"m":1.0},{"t":4,"m":1.7},{"t":6,"m":1.85},{"t":8,"m":2.25},{"t":10,"m":2.55},{"t":12,"m":2.15},{"t":14,"m":1.85},{"t":16,"m":1.4},{"t":18,"m":1.0},{"t":20,"m":0.4},{"t":22,"m":0.0},{"t":24,"m":-0.1},{"t":26,"m":0.7},{"t":28,"m":1.0},{"t":30,"m":0.25},{"t":32,"m":-0.3},{"t":34,"m":1.0},{"t":36,"m":1.85},{"t":38,"m":2.55},{"t":40,"m":2.85},{"t":42,"m":3.3},{"t":44,"m":2.85},{"t":46,"m":3.4},{"t":48,"m":3.55},{"t":50,"m":3.65},{"t":52,"m":3.5},{"t":54,"m":3.3},{"t":56,"m":3.2},{"t":58,"m":3.0},{"t":60,"m":2.7},{"t":62,"m":2.15},{"t":64,"m":1.15},{"t":66,"m":-0.15},{"t":68,"m":-1.6},{"t":70,"m":-2.75},{"t":72,"m":-3.6},{"t":74,"m":-4.45},{"t":76,"m":-4.75},{"t":78,"m":-4.75},{"t":80,"m":-4.6},{"t":82,"m":-4.0},{"t":84,"m":-3.3},{"t":86,"m":-2.75},{"t":88,"m":-2.6},{"t":90,"m":-1.9},{"t":92,"m":-0.45},{"t":94,"m":0.4},{"t":96,"m":1.15},{"t":98,"m":2.4},{"t":100,"m":3.0},{"t":102,"m":3.15},{"t":104,"m":2.55},{"t":106,"m":2.4},{"t":108,"m":2.4},{"t":110,"m":2.25},{"t":112,"m":2.15},{"t":114,"m":2.0},{"t":116,"m":2.2},{"t":118,"m":1.85},{"t":120,"m":1.15},{"t":122,"m":1.0},{"t":124,"m":0.7},{"t":126,"m":-0.45},{"t":128,"m":-1.6},{"t":130,"m":-2.75},{"t":132,"m":-3.6},{"t":134,"m":-3.75},{"t":136,"m":-3.75},{"t":138,"m":-4.0},{"t":140,"m":-4.6},{"t":142,"m":-3.75},{"t":144,"m":-3.0},{"t":146,"m":-2.45},{"t":148,"m":-2.3},{"t":150,"m":-2.15},{"t":152,"m":-1.15},{"t":154,"m":-0.15},{"t":156,"m":1.0},{"t":158,"m":1.55},{"t":160,"m":1.55},{"t":162,"m":1.85},{"t":164,"m":2.0},{"t":166,"m":2.05},{"t":168,"m":1.85},{"t":170,"m":1.25},{"t":172,"m":1.15},{"t":174,"m":1.25},{"t":176,"m":1.0},{"t":178,"m":1.25},{"t":180,"m":1.55},{"t":182,"m":1.0},{"t":184,"m":0.0},{"t":186,"m":-1.3},{"t":188,"m":-2.6},{"t":190,"m":-3.45},{"t":192,"m":-3.9},{"t":194,"m":-3.95},{"t":196,"m":-4.0},{"t":198,"m":-4.15},{"t":200,"m":-4.3},{"t":202,"m":-4.15},{"t":204,"m":-4.0},{"t":206,"m":-3.45},{"t":208,"m":-2.6},{"t":210,"m":-1.9},{"t":212,"m":-0.75},{"t":214,"m":0.7},{"t":216,"m":2.15},{"t":218,"m":2.55},{"t":220,"m":2.55},{"t":222,"m":2.7},{"t":224,"m":3.0},{"t":226,"m":3.15},{"t":228,"m":2.7},{"t":230,"m":2.55},{"t":232,"m":2.0},{"t":234,"m":1.55},{"t":236,"m":1.5},{"t":238,"m":1.5},{"t":240,"m":1.4},{"t":242,"m":1.25},{"t":244,"m":1.7},{"t":246,"m":1.0},{"t":248,"m":-0.45},{"t":250,"m":-1.9},{"t":252,"m":-3.0},{"t":254,"m":-3.3},{"t":256,"m":-3.6},{"t":258,"m":-3.45},{"t":260,"m":-3.75},{"t":262,"m":-4.15},{"t":264,"m":-4.45},{"t":266,"m":-3.9},{"t":268,"m":-3.15},{"t":270,"m":-2.6},{"t":272,"m":-2.3},{"t":274,"m":-1.15},{"t":276,"m":0.7},{"t":278,"m":2.4},{"t":280,"m":3.3},{"t":282,"m":3.55},{"t":284,"m":3.4},{"t":286,"m":3.05},{"t":288,"m":2.9},{"t":290,"m":2.55},{"t":292,"m":2.4},{"t":294,"m":2.25},{"t":296,"m":2.0},{"t":298,"m":1.85},{"t":300,"m":1.55}],
 "sE": [{"t":0,"l":-1.0,"h":1.0},{"t":3,"l":-0.4,"h":2.8},{"t":6,"l":-0.6,"h":4.0},{"t":9,"l":0.3,"h":5.9},{"t":12,"l":0.2,"h":4.0},{"t":15,"l":-0.6,"h":2.6},{"t":18,"l":-1.0,"h":2.0},{"t":21,"l":-1.8,"h":1.2},{"t":24,"l":-1.4,"h":0.8},{"t":27,"l":-1.0,"h":2.8},{"t":30,"l":-1.4,"h":2.0},{"t":33,"l":-1.2,"h":1.6},{"t":36,"l":0.0,"h":4.0},{"t":39,"l":0.7,"h":4.6},{"t":42,"l":1.2,"h":4.8},{"t":45,"l":1.3,"h":5.2},{"t":48,"l":1.4,"h":6.0},{"t":51,"l":0.8,"h":6.4},{"t":54,"l":0.0,"h":6.8},{"t":56,"l":-0.4,"h":7.1},{"t":59,"l":-0.8,"h":6.6},{"t":62,"l":-0.6,"h":4.0},{"t":65,"l":-1.6,"h":1.5},{"t":68,"l":-3.0,"h":-0.5},{"t":71,"l":-4.5,"h":-2.0},{"t":74,"l":-6.2,"h":-2.6},{"t":77,"l":-7.2,"h":-2.7},{"t":80,"l":-6.6,"h":-2.6},{"t":83,"l":-5.4,"h":-2.2},{"t":86,"l":-4.6,"h":-1.8},{"t":89,"l":-3.8,"h":-1.0},{"t":92,"l":-2.6,"h":0.4},{"t":95,"l":-0.8,"h":2.2},{"t":98,"l":0.2,"h":4.4},{"t":101,"l":0.6,"h":5.8},{"t":104,"l":0.8,"h":4.8},{"t":107,"l":0.6,"h":4.6},{"t":110,"l":-0.6,"h":5.2},{"t":113,"l":-1.2,"h":5.0},{"t":116,"l":0.0,"h":4.4},{"t":119,"l":0.2,"h":3.8},{"t":122,"l":-0.5,"h":2.8},{"t":125,"l":-1.6,"h":1.5},{"t":128,"l":-3.2,"h":-0.2},{"t":131,"l":-5.0,"h":-1.8},{"t":134,"l":-5.6,"h":-2.2},{"t":137,"l":-6.0,"h":-2.6},{"t":140,"l":-6.2,"h":-2.6},{"t":143,"l":-5.2,"h":-2.0},{"t":146,"l":-4.2,"h":-1.2},{"t":149,"l":-3.6,"h":-0.6},{"t":152,"l":-2.6,"h":0.4},{"t":155,"l":-0.8,"h":2.0},{"t":158,"l":0.0,"h":3.0},{"t":161,"l":-0.2,"h":3.4},{"t":164,"l":0.2,"h":3.9},{"t":167,"l":0.4,"h":3.6},{"t":170,"l":-0.2,"h":3.4},{"t":173,"l":-0.4,"h":3.2},{"t":176,"l":-0.6,"h":3.3},{"t":179,"l":-0.8,"h":3.0},{"t":182,"l":-1.2,"h":2.6},{"t":185,"l":-2.6,"h":0.8},{"t":188,"l":-4.4,"h":-1.0},{"t":191,"l":-5.4,"h":-2.0},{"t":194,"l":-6.0,"h":-2.4},{"t":197,"l":-7.0,"h":-2.5},{"t":200,"l":-7.4,"h":-2.6},{"t":203,"l":-6.0,"h":-2.4},{"t":206,"l":-5.0,"h":-2.0},{"t":209,"l":-3.6,"h":-0.8},{"t":212,"l":-2.0,"h":0.8},{"t":215,"l":0.0,"h":2.8},{"t":218,"l":1.2,"h":4.0},{"t":221,"l":1.3,"h":4.2},{"t":224,"l":1.4,"h":4.6},{"t":227,"l":1.2,"h":5.0},{"t":230,"l":0.8,"h":4.4},{"t":233,"l":0.3,"h":4.0},{"t":236,"l":-0.2,"h":3.4},{"t":239,"l":-0.5,"h":3.0},{"t":242,"l":-0.8,"h":2.8},{"t":245,"l":-0.6,"h":2.2},{"t":248,"l":-1.8,"h":0.8},{"t":251,"l":-4.0,"h":-1.0},{"t":254,"l":-5.2,"h":-1.6},{"t":257,"l":-5.6,"h":-1.6},{"t":260,"l":-6.2,"h":-1.8},{"t":263,"l":-6.8,"h":-1.9},{"t":265,"l":-7.8,"h":-2.0},{"t":268,"l":-5.0,"h":-0.6},{"t":271,"l":-4.2,"h":-0.3},{"t":274,"l":-2.5,"h":1.2},{"t":277,"l":0.2,"h":3.2},{"t":280,"l":1.5,"h":5.0},{"t":283,"l":1.8,"h":5.7},{"t":286,"l":1.5,"h":5.0},{"t":290,"l":1.0,"h":4.5},{"t":294,"l":0.7,"h":3.6},{"t":297,"l":0.5,"h":3.0},{"t":300,"l":0.4,"h":2.5}],
 "mF": [{"t":0,"m":0.4},{"t":1,"m":-0.5},{"t":2,"m":-0.7},{"t":4,"m":-0.2},{"t":6,"m":0.25},{"t":8,"m":0.4},{"t":10,"m":0.1},{"t":12,"m":-0.1},{"t":14,"m":0.1},{"t":16,"m":-0.05},{"t":18,"m":0.1},{"t":20,"m":0.15},{"t":22,"m":0.5},{"t":24,"m":0.35},{"t":26,"m":0.5},{"t":28,"m":0.45},{"t":30,"m":0.0},{"t":32,"m":0.0},{"t":34,"m":0.65},{"t":36,"m":1.35},{"t":38,"m":1.95},{"t":40,"m":2.35},{"t":42,"m":2.55},{"t":44,"m":2.35},{"t":46,"m":2.1},{"t":48,"m":2.0},{"t":50,"m":1.65},{"t":52,"m":1.25},{"t":54,"m":0.5},{"t":56,"m":0.65},{"t":58,"m":1.25},{"t":60,"m":1.3},{"t":62,"m":0.95},{"t":64,"m":-0.05},{"t":66,"m":-1.2},{"t":68,"m":-2.2},{"t":70,"m":-2.6},{"t":72,"m":-3.05},{"t":74,"m":-3.5},{"t":76,"m":-3.35},{"t":78,"m":-2.9},{"t":80,"m":-2.9},{"t":82,"m":-3.2},{"t":84,"m":-2.75},{"t":86,"m":-2.2},{"t":88,"m":-1.6},{"t":90,"m":-1.35},{"t":92,"m":-1.2},{"t":94,"m":0.1},{"t":96,"m":1.25},{"t":98,"m":1.65},{"t":100,"m":1.8},{"t":102,"m":1.8},{"t":104,"m":1.95},{"t":106,"m":1.8},{"t":108,"m":1.95},{"t":110,"m":1.95},{"t":112,"m":2.0},{"t":114,"m":1.5},{"t":116,"m":1.65},{"t":118,"m":1.25},{"t":120,"m":1.15},{"t":122,"m":1.25},{"t":124,"m":0.1},{"t":126,"m":-1.2},{"t":128,"m":-2.35},{"t":130,"m":-2.9},{"t":132,"m":-3.0},{"t":134,"m":-2.9},{"t":136,"m":-3.25},{"t":138,"m":-3.2},{"t":140,"m":-2.5},{"t":142,"m":-2.05},{"t":144,"m":-1.6},{"t":146,"m":-1.05},{"t":148,"m":-1.5},{"t":150,"m":-1.2},{"t":152,"m":0.1},{"t":154,"m":1.25},{"t":156,"m":1.8},{"t":158,"m":1.95},{"t":160,"m":1.65},{"t":162,"m":2.2},{"t":164,"m":1.5},{"t":166,"m":1.65},{"t":168,"m":1.5},{"t":170,"m":1.5},{"t":172,"m":1.35},{"t":174,"m":0.75},{"t":176,"m":0.95},{"t":178,"m":1.15},{"t":180,"m":1.35},{"t":182,"m":1.1},{"t":184,"m":-0.05},{"t":186,"m":-1.2},{"t":188,"m":-1.9},{"t":190,"m":-2.35},{"t":192,"m":-2.6},{"t":194,"m":-2.75},{"t":196,"m":-3.2},{"t":198,"m":-3.1},{"t":200,"m":-2.75},{"t":202,"m":-2.6},{"t":204,"m":-1.9},{"t":206,"m":-1.5},{"t":208,"m":-1.05},{"t":210,"m":-0.65},{"t":212,"m":0.1},{"t":214,"m":0.95},{"t":216,"m":1.65},{"t":218,"m":2.35},{"t":220,"m":2.65},{"t":222,"m":2.1},{"t":224,"m":1.5},{"t":226,"m":1.1},{"t":228,"m":1.25},{"t":230,"m":1.5},{"t":232,"m":1.1},{"t":234,"m":0.65},{"t":236,"m":0.4},{"t":238,"m":0.5},{"t":240,"m":0.95},{"t":242,"m":0.65},{"t":244,"m":-0.35},{"t":246,"m":-1.2},{"t":248,"m":-1.9},{"t":250,"m":-2.35},{"t":252,"m":-2.75},{"t":254,"m":-2.9},{"t":256,"m":-3.6},{"t":258,"m":-3.2},{"t":260,"m":-2.35},{"t":262,"m":-1.75},{"t":264,"m":-1.5},{"t":266,"m":-1.6},{"t":268,"m":-1.6},{"t":270,"m":-1.6},{"t":272,"m":-0.2},{"t":274,"m":1.25},{"t":276,"m":2.1},{"t":278,"m":2.65},{"t":280,"m":2.8},{"t":282,"m":2.65},{"t":284,"m":2.35},{"t":286,"m":1.8},{"t":288,"m":1.25},{"t":290,"m":1.1},{"t":292,"m":0.95},{"t":294,"m":1.1},{"t":296,"m":0.95},{"t":298,"m":0.5},{"t":300,"m":0.95}],
 "sF": [{"t":0,"l":-1.6,"h":1.6},{"t":2,"l":-2.6,"h":1.4},{"t":5,"l":-1.2,"h":1.0},{"t":8,"l":-0.8,"h":1.6},{"t":11,"l":-1.2,"h":0.8},{"t":14,"l":-1.6,"h":1.2},{"t":17,"l":-1.2,"h":1.6},{"t":20,"l":-1.4,"h":2.0},{"t":23,"l":-0.8,"h":1.8},{"t":26,"l":-0.8,"h":1.4},{"t":29,"l":-1.2,"h":1.6},{"t":32,"l":-1.4,"h":1.3},{"t":35,"l":-0.5,"h":2.8},{"t":38,"l":0.0,"h":3.6},{"t":41,"l":0.2,"h":4.4},{"t":44,"l":-0.2,"h":4.6},{"t":47,"l":-0.6,"h":5.3},{"t":50,"l":-1.2,"h":4.0},{"t":53,"l":-2.2,"h":3.0},{"t":56,"l":-1.0,"h":3.2},{"t":59,"l":-0.8,"h":2.8},{"t":62,"l":-0.6,"h":2.2},{"t":64,"l":-1.2,"h":0.8},{"t":67,"l":-2.8,"h":-0.6},{"t":70,"l":-3.8,"h":-1.2},{"t":73,"l":-5.0,"h":-1.4},{"t":76,"l":-5.8,"h":-1.6},{"t":79,"l":-5.0,"h":-1.4},{"t":82,"l":-4.4,"h":-1.6},{"t":85,"l":-3.6,"h":-1.4},{"t":88,"l":-2.8,"h":-0.8},{"t":91,"l":-2.4,"h":-0.6},{"t":94,"l":-0.8,"h":1.0},{"t":97,"l":0.3,"h":2.8},{"t":100,"l":0.2,"h":3.2},{"t":103,"l":0.2,"h":4.0},{"t":106,"l":0.0,"h":3.8},{"t":109,"l":0.3,"h":4.3},{"t":112,"l":0.0,"h":4.0},{"t":115,"l":-0.3,"h":3.5},{"t":118,"l":-0.4,"h":3.4},{"t":121,"l":-0.8,"h":3.5},{"t":124,"l":-0.5,"h":2.0},{"t":127,"l":-2.8,"h":-0.2},{"t":130,"l":-3.8,"h":-1.8},{"t":133,"l":-4.4,"h":-2.0},{"t":136,"l":-4.8,"h":-2.0},{"t":139,"l":-4.4,"h":-1.2},{"t":142,"l":-3.6,"h":-0.8},{"t":145,"l":-3.0,"h":-0.4},{"t":148,"l":-2.6,"h":-0.6},{"t":151,"l":-2.2,"h":0.2},{"t":154,"l":0.0,"h":2.6},{"t":157,"l":0.3,"h":3.4},{"t":160,"l":0.4,"h":4.0},{"t":163,"l":0.0,"h":4.2},{"t":166,"l":-0.2,"h":3.6},{"t":169,"l":-0.5,"h":3.4},{"t":172,"l":-0.4,"h":3.6},{"t":175,"l":-1.0,"h":3.4},{"t":178,"l":-0.8,"h":3.2},{"t":181,"l":-1.2,"h":3.4},{"t":183,"l":-1.6,"h":2.4},{"t":186,"l":-2.8,"h":0.0},{"t":189,"l":-3.6,"h":-1.2},{"t":192,"l":-4.0,"h":-1.6},{"t":195,"l":-4.6,"h":-2.0},{"t":198,"l":-4.8,"h":-2.0},{"t":201,"l":-4.0,"h":-1.6},{"t":204,"l":-3.0,"h":-1.0},{"t":207,"l":-2.6,"h":-0.6},{"t":210,"l":-2.0,"h":0.0},{"t":213,"l":-1.0,"h":1.6},{"t":216,"l":-0.5,"h":3.4},{"t":219,"l":0.4,"h":4.8},{"t":222,"l":0.0,"h":4.4},{"t":225,"l":-0.6,"h":4.6},{"t":228,"l":-1.0,"h":3.8},{"t":231,"l":-1.5,"h":3.6},{"t":234,"l":-1.8,"h":3.0},{"t":237,"l":-2.0,"h":2.6},{"t":240,"l":-1.8,"h":2.4},{"t":243,"l":-1.6,"h":1.6},{"t":246,"l":-2.8,"h":0.0},{"t":249,"l":-3.6,"h":-0.8},{"t":252,"l":-4.0,"h":-1.2},{"t":255,"l":-4.8,"h":-1.8},{"t":258,"l":-5.0,"h":-1.8},{"t":261,"l":-3.4,"h":-0.8},{"t":264,"l":-2.8,"h":-0.4},{"t":267,"l":-3.0,"h":-0.8},{"t":270,"l":-3.8,"h":-0.4},{"t":273,"l":-1.2,"h":1.2},{"t":276,"l":0.5,"h":3.4},{"t":279,"l":0.9,"h":4.8},{"t":282,"l":1.0,"h":5.6},{"t":285,"l":0.2,"h":5.0},{"t":288,"l":-0.5,"h":4.0},{"t":291,"l":-0.8,"h":3.0},{"t":294,"l":-1.0,"h":2.4},{"t":297,"l":-1.6,"h":2.8},{"t":300,"l":-1.8,"h":2.8}]
},
"resolve": {"scale": {"color": "independent"}, "legend": {"color": "independent"}},
"columns": 3,
"bounds": "flush",
"spacing": {"row": 140, "column": 89},
"concat": [
 {
  "width": 311, "height": 372,
  "title": {"text": "PMC", "dx": 14},
  "resolve": {"axis": {"x": "independent", "y": "independent"}},
  "layer": [
   {"data": {"name": "sA"}, "mark": {"type": "area", "color": "#8080ff"},
    "encoding": {
     "x": {"field": "t", "type": "quantitative", "scale": {"domain": [0, 300], "nice": false, "zero": false}, "axis": {"values": [0, 100, 200, 300], "title": "time, s"}},
     "y": {"field": "l", "type": "quantitative", "scale": {"domain": [-8, 8], "nice": false}, "axis": {"values": [-8, -6, -4, -2, 0, 2, 4, 6, 8], "title": "Δ% T2*"}},
     "y2": {"field": "h"},
     "color": {"datum": "SD", "type": "nominal", "scale": {"domain": ["group average", "SD"], "range": ["red", "#8080ff"]},
      "legend": {"orient": "none", "legendX": 79, "legendY": 15, "title": null,
       "encode": {"symbols": {"update": {"shape": {"signal": "datum.value === 'SD' ? 'M-2.375,-0.96H2.375V0.96H-2.375Z' : 'M-2.375,-0.11H2.375V0.11H-2.375Z'"}, "fill": {"signal": "datum.value === 'SD' ? '#8080ff' : '#ff0000'"}, "stroke": {"value": "transparent"}, "opacity": {"value": 1}, "fillOpacity": {"value": 1}}}}}}
    }},
   {"data": {"name": "blocks"}, "mark": {"type": "rect", "color": "#00ff00", "opacity": 0.2}, "encoding": {"x": {"field": "s", "type": "quantitative", "axis": null}, "x2": {"field": "e"}}},
   {"data": {"name": "mA"}, "mark": {"type": "line", "color": "red", "strokeWidth": 2.7},
    "encoding": {
     "x": {"field": "t", "type": "quantitative", "axis": {"orient": "top", "title": "A", "titleX": -53, "titleY": 13}},
     "y": {"field": "m", "type": "quantitative", "axis": {"orient": "right", "title": "3T", "titleX": -421, "titleY": 140}},
     "color": {"datum": "group average", "type": "nominal"}
    }}
  ]
 },
 {
  "width": 308, "height": 372,
  "title": {"text": "PMC NF", "dx": 18},
  "resolve": {"axis": {"x": "independent", "y": "independent"}},
  "layer": [
   {"data": {"name": "sB"}, "mark": {"type": "area", "color": "#8080ff"},
    "encoding": {
     "x": {"field": "t", "type": "quantitative", "scale": {"domain": [0, 300], "nice": false, "zero": false}, "axis": {"values": [0, 100, 200, 300], "title": "time, s"}},
     "y": {"field": "l", "type": "quantitative", "scale": {"domain": [-8, 8], "nice": false}, "axis": {"values": [-8, -6, -4, -2, 0, 2, 4, 6, 8], "title": null}},
     "y2": {"field": "h"}
    }},
   {"data": {"name": "blocks"}, "mark": {"type": "rect", "color": "#00ff00", "opacity": 0.2}, "encoding": {"x": {"field": "s", "type": "quantitative", "axis": null}, "x2": {"field": "e"}}},
   {"data": {"name": "mB"}, "mark": {"type": "line", "color": "red", "strokeWidth": 2.7},
    "encoding": {
     "x": {"field": "t", "type": "quantitative", "axis": {"orient": "top", "title": "B", "titleX": -49, "titleY": 12}},
     "y": {"field": "m", "type": "quantitative", "axis": null}
    }}
  ]
 },
 {
  "width": 312, "height": 372,
  "title": {"text": "VC", "dx": -5},
  "resolve": {"axis": {"x": "independent", "y": "independent"}},
  "layer": [
   {"data": {"name": "sC"}, "mark": {"type": "area", "color": "#8080ff"},
    "encoding": {
     "x": {"field": "t", "type": "quantitative", "scale": {"domain": [0, 300], "nice": false, "zero": false}, "axis": {"values": [0, 100, 200, 300], "title": "time, s"}},
     "y": {"field": "l", "type": "quantitative", "scale": {"domain": [-8, 8], "nice": false}, "axis": {"values": [-8, -6, -4, -2, 0, 2, 4, 6, 8], "title": null}},
     "y2": {"field": "h"}
    }},
   {"data": {"name": "blocks"}, "mark": {"type": "rect", "color": "#00ff00", "opacity": 0.2}, "encoding": {"x": {"field": "s", "type": "quantitative", "axis": null}, "x2": {"field": "e"}}},
   {"data": {"name": "mC"}, "mark": {"type": "line", "color": "red", "strokeWidth": 2.7},
    "encoding": {
     "x": {"field": "t", "type": "quantitative", "axis": {"orient": "top", "title": "C", "titleX": -49, "titleY": 12}},
     "y": {"field": "m", "type": "quantitative", "axis": null}
    }}
  ]
 },
 {
  "width": 311, "height": 372,
  "resolve": {"axis": {"x": "independent", "y": "independent"}},
  "layer": [
   {"data": {"name": "sD"}, "mark": {"type": "area", "color": "#8080ff"},
    "encoding": {
     "x": {"field": "t", "type": "quantitative", "scale": {"domain": [0, 300], "nice": false, "zero": false}, "axis": {"values": [0, 100, 200, 300], "title": "time, s"}},
     "y": {"field": "l", "type": "quantitative", "scale": {"domain": [-8, 8], "nice": false}, "axis": {"values": [-8, -6, -4, -2, 0, 2, 4, 6, 8], "title": "Δ% T2*"}},
     "y2": {"field": "h"}
    }},
   {"data": {"name": "blocks"}, "mark": {"type": "rect", "color": "#00ff00", "opacity": 0.2}, "encoding": {"x": {"field": "s", "type": "quantitative", "axis": null}, "x2": {"field": "e"}}},
   {"data": {"name": "mD"}, "mark": {"type": "line", "color": "red", "strokeWidth": 2.7},
    "encoding": {
     "x": {"field": "t", "type": "quantitative", "axis": {"orient": "top", "title": "D", "titleX": -54, "titleY": -5}},
     "y": {"field": "m", "type": "quantitative", "axis": {"orient": "right", "title": "7T", "titleX": -420, "titleY": 120}}
    }}
  ]
 },
 {
  "width": 308, "height": 372,
  "resolve": {"axis": {"x": "independent", "y": "independent"}},
  "layer": [
   {"data": {"name": "sE"}, "mark": {"type": "area", "color": "#8080ff"},
    "encoding": {
     "x": {"field": "t", "type": "quantitative", "scale": {"domain": [0, 300], "nice": false, "zero": false}, "axis": {"values": [0, 100, 200, 300], "title": "time, s"}},
     "y": {"field": "l", "type": "quantitative", "scale": {"domain": [-8, 8], "nice": false}, "axis": {"values": [-8, -6, -4, -2, 0, 2, 4, 6, 8], "title": null}},
     "y2": {"field": "h"}
    }},
   {"data": {"name": "blocks"}, "mark": {"type": "rect", "color": "#00ff00", "opacity": 0.2}, "encoding": {"x": {"field": "s", "type": "quantitative", "axis": null}, "x2": {"field": "e"}}},
   {"data": {"name": "mE"}, "mark": {"type": "line", "color": "red", "strokeWidth": 2.7},
    "encoding": {
     "x": {"field": "t", "type": "quantitative", "axis": {"orient": "top", "title": "E", "titleX": -52, "titleY": -7}},
     "y": {"field": "m", "type": "quantitative", "axis": null}
    }}
  ]
 },
 {
  "width": 312, "height": 372,
  "resolve": {"axis": {"x": "independent", "y": "independent"}},
  "layer": [
   {"data": {"name": "sF"}, "mark": {"type": "area", "color": "#8080ff"},
    "encoding": {
     "x": {"field": "t", "type": "quantitative", "scale": {"domain": [0, 300], "nice": false, "zero": false}, "axis": {"values": [0, 100, 200, 300], "title": "time, s"}},
     "y": {"field": "l", "type": "quantitative", "scale": {"domain": [-8, 8], "nice": false}, "axis": {"values": [-8, -6, -4, -2, 0, 2, 4, 6, 8], "title": null}},
     "y2": {"field": "h"}
    }},
   {"data": {"name": "blocks"}, "mark": {"type": "rect", "color": "#00ff00", "opacity": 0.2}, "encoding": {"x": {"field": "s", "type": "quantitative", "axis": null}, "x2": {"field": "e"}}},
   {"data": {"name": "mF"}, "mark": {"type": "line", "color": "red", "strokeWidth": 2.7},
    "encoding": {
     "x": {"field": "t", "type": "quantitative", "axis": {"orient": "top", "title": "F", "titleX": -46, "titleY": -5}},
     "y": {"field": "m", "type": "quantitative", "axis": null}
    }}
  ]
 }
]
}
